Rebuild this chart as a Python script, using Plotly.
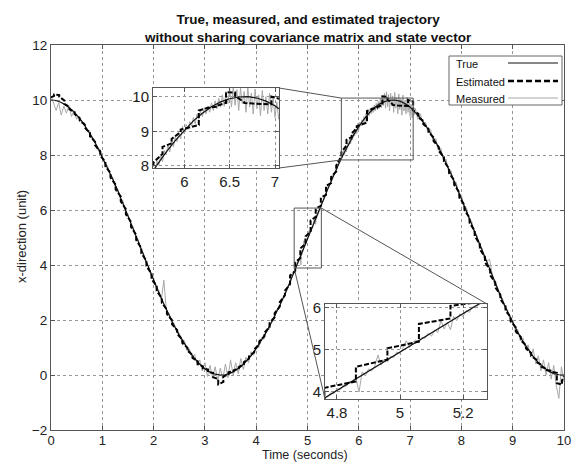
import numpy as np
import plotly.graph_objects as go

W, H = 580, 463
PAGE_OFFSET = 8  # the page body adds an 8 px margin around the figure
FONT = "Liberation Sans, Arial, sans-serif"

# ---------------- data ----------------
# True trajectory, sampled every 0.1 s from 0 s to 10 s
true_x = [10.00, 9.98, 9.91, 9.80, 9.65, 9.46, 9.23, 8.96, 8.65, 8.31,
          7.94, 7.55, 7.14, 6.71, 6.26, 5.80, 5.33, 4.86, 4.38, 3.91,
          3.45, 3.01, 2.58, 2.18, 1.80, 1.45, 1.13, 0.85, 0.60, 0.39,
          0.23, 0.11, 0.03, 0.00, 0.01, 0.07, 0.17, 0.30, 0.49, 0.70,
          0.96, 1.25, 1.57, 1.92, 2.29, 2.69, 3.11, 3.58, 4.04, 4.49,
          4.95, 5.40, 5.87, 6.33, 6.78, 7.22, 7.64, 8.03, 8.40, 8.73,
          9.03, 9.30, 9.52, 9.71, 9.85, 9.94, 9.99, 10.00, 9.96, 9.87,
          9.74, 9.56, 9.35, 9.09, 8.80, 8.47, 8.11, 7.72, 7.30, 6.87,
          6.41, 5.95, 5.48, 5.00, 4.52, 4.05, 3.59, 3.14, 2.71, 2.30,
          1.91, 1.55, 1.22, 0.93, 0.67, 0.45, 0.28, 0.14, 0.05, 0.01,
          0.00]

# Estimated: filter updates every 0.1 s starting at 0.06 s
est_first_t, est_last_t = 0.0, 10.0
est_first, est_last = 10.10, -0.05
est_update_t0, est_update_dt = 0.06, 0.1
est_prior = [10.15, 10.18, 9.98, 9.74, 9.56, 9.34, 9.10, 8.80, 8.48, 8.13,
             7.75, 7.34, 6.92, 6.49, 6.03, 5.57, 5.10, 4.62, 4.15, 3.68,
             3.23, 2.79, 2.38, 1.99, 1.63, 1.29, 0.99, 0.73, 0.50, 0.31,
             0.20, 0.08, -0.15, -0.25, 0.02, 0.13, 0.24, 0.39, 0.60, 0.83,
             1.10, 1.41, 1.74, 2.10, 2.49, 2.90, 3.30, 3.78, 4.25, 4.77,
             5.20, 5.75, 6.15, 6.55, 6.98, 7.40, 7.95, 8.35, 8.65, 8.98,
             9.12, 9.18, 9.67, 9.71, 9.82, 10.12, 9.84, 9.80, 9.78, 9.78,
             9.93, 9.50, 9.24, 8.95, 8.63, 8.29, 7.92, 7.51, 7.08, 6.64,
             6.18, 5.72, 5.24, 4.76, 4.29, 3.82, 3.37, 2.92, 2.50, 2.11,
             1.73, 1.38, 1.08, 0.80, 0.56, 0.37, 0.22, 0.15, 0.08, -0.35]
est_post = [10.20, 10.12, 9.86, 9.66, 9.49, 9.25, 8.99, 8.68, 8.35, 7.98,
            7.59, 7.18, 6.75, 6.31, 5.84, 5.38, 4.91, 4.43, 3.96, 3.49,
            3.06, 2.62, 2.22, 1.84, 1.49, 1.16, 0.88, 0.62, 0.40, 0.24,
            0.10, -0.08, -0.34, -0.05, 0.10, 0.17, 0.29, 0.47, 0.68, 0.94,
            1.22, 1.54, 1.89, 2.25, 2.65, 3.07, 3.62, 4.10, 4.60, 5.04,
            5.62, 6.05, 6.45, 6.88, 7.20, 7.62, 8.10, 8.55, 8.78, 9.05,
            9.12, 9.60, 9.68, 9.74, 10.13, 10.02, 9.82, 9.80, 9.80, 10.00,
            9.62, 9.36, 9.12, 8.83, 8.50, 8.14, 7.76, 7.34, 6.91, 6.45,
            5.99, 5.53, 5.05, 4.57, 4.10, 3.63, 3.19, 2.75, 2.34, 1.95,
            1.58, 1.25, 0.96, 0.69, 0.47, 0.30, 0.18, 0.12, -0.30, -0.20]

# Measured, in time segments (uniform sampling inside each segment)
meas_spans = [(0.00, 4.70), (4.74, 5.30), (5.35, 5.60), (5.64, 7.08), (7.10, 10.00)]
meas_a = [10.15, 9.85, 9.62, 9.90, 9.45, 9.78, 9.52, 9.80, 9.40, 9.62,
          9.30, 9.41, 9.15, 9.18, 8.88, 8.90, 8.58, 8.52, 8.20, 8.22,
          7.90, 7.68, 7.62, 7.28, 7.20, 6.85, 6.78, 6.40, 6.35, 5.95,
          5.86, 5.50, 5.40, 5.02, 4.92, 4.55, 4.45, 4.08, 3.98, 3.60,
          3.52, 3.15, 3.08, 2.72, 3.45, 2.30, 2.25, 1.90, 1.88, 1.55,
          1.52, 1.20, 1.25, 0.88, 0.95, 0.62, 0.75, 0.35, 0.55, 0.15,
          0.45, -0.05, 0.35, -0.10, 0.30, -0.20, 0.25, -0.15, 0.40, -0.10,
          0.55, 0.00, 0.45, 0.05, 0.60, 0.20, 0.65, 0.45, 0.85, 0.72,
          1.05, 1.00, 1.35, 1.30, 1.66, 1.65, 2.00, 2.02, 2.38, 2.40,
          2.78, 2.82, 3.20, 3.26, 3.65]
meas_b = [3.80, 3.78, 3.92, 3.88, 3.98, 3.96, 4.08, 4.05, 4.16, 4.14,
          4.25, 4.22, 4.33, 4.00, 4.48, 4.38, 4.55, 4.50, 4.62, 4.88,
          4.64, 4.78, 4.72, 4.85, 4.82, 4.95, 4.92, 5.05, 5.22, 5.06,
          5.18, 5.24, 5.19, 5.30, 5.28, 5.40, 5.33, 5.48, 5.42, 5.70,
          5.50, 5.66, 5.48, 5.80, 5.70, 5.86, 5.80, 5.94, 5.90, 6.02,
          6.00, 6.08, 6.12, 6.16, 6.24, 6.25, 6.33]
meas_c = [6.50, 6.85, 6.95, 7.30, 7.38, 7.70]
meas_d = [7.78, 7.92, 7.90, 8.15, 8.02, 8.30, 8.12, 8.45, 8.32, 8.62,
          8.40, 8.75, 8.55, 8.85, 8.70, 8.95, 8.78, 9.15, 8.92, 9.20,
          9.05, 9.28, 9.15, 9.40, 9.22, 9.50, 9.35, 9.58, 9.42, 9.68,
          9.50, 9.72, 9.55, 9.82, 9.60, 9.88, 9.65, 9.95, 9.70, 10.05,
          9.72, 10.15, 9.80, 10.25, 9.70, 10.30, 9.75, 10.20, 9.60, 10.25,
          9.80, 10.15, 9.55, 10.28, 9.70, 10.10, 9.50, 10.22, 9.65, 10.05,
          9.45, 10.18, 9.60, 10.00, 9.50, 10.10, 9.55, 9.95, 9.40, 9.85,
          9.35, 9.70, 9.45]
meas_e = [9.70, 9.30, 9.50, 9.10, 9.20, 8.80, 8.92, 8.50, 8.60, 8.18,
          8.25, 7.78, 7.85, 7.40, 7.42, 6.95, 7.00, 6.52, 6.55, 6.05,
          6.08, 5.60, 5.60, 5.12, 5.10, 4.65, 4.62, 4.18, 4.15, 4.20,
          3.68, 3.25, 3.22, 2.82, 2.80, 2.40, 2.38, 2.00, 2.00, 1.62,
          1.65, 1.25, 1.35, 0.95, 1.10, 0.65, 0.95, 0.40, 0.70, 0.15,
          0.55, 0.00, 0.45, -0.15, 0.35, -0.40, -0.85, 0.30, -0.25]
meas_segments = [meas_a, meas_b, meas_c, meas_d, meas_e]

x_ticks_main = list(range(0, 11))
y_ticks_main = list(range(-2, 13, 2))
inset1_xticks, inset1_xlabels = [6, 6.5, 7], ["6", "6.5", "7"]
inset1_yticks = [8, 9, 10]
inset2_xticks, inset2_xlabels = [4.8, 5.0, 5.2], ["4.8", "5", "5.2"]
inset2_yticks = [4, 5, 6]

# ---------------- build series ----------------
true_t = np.linspace(0, 10, len(true_x))
upd_t = np.round(est_update_t0 + est_update_dt * np.arange(len(est_post)), 3)
est_t = [est_first_t]
est_y = [est_first]
for tk, pr, po in zip(upd_t, est_prior, est_post):
    est_t += [tk, tk]
    est_y += [pr, po]
est_t.append(est_last_t)
est_y.append(est_last)

meas_t, meas_y = [], []
for (t0, t1), vals in zip(meas_spans, meas_segments):
    meas_t += list(np.linspace(t0, t1, len(vals)))
    meas_y += list(vals)

# ---------------- geometry (screen pixels -> paper) ----------------
def px_x(p):
    return (p - PAGE_OFFSET) / W

def px_y(p):
    return 1 - (p - PAGE_OFFSET) / H

main_dom_x = [px_x(51), px_x(564)]
main_dom_y = [px_y(430), px_y(45)]
main_rng_x, main_rng_y = [0, 10], [-2, 12]

in1_dom_x = [px_x(153), px_x(279)]
in1_dom_y = [px_y(168), px_y(88)]
in1_rng_x, in1_rng_y = [5.655, 7.044], [7.94, 10.25]

in2_dom_x = [px_x(325), px_x(487)]
in2_dom_y = [px_y(399), px_y(304)]
in2_rng_x, in2_rng_y = [4.762, 5.276], [3.833, 6.095]

# zoom rectangles drawn on the main axes (data units)
rect1 = dict(x0=5.66, x1=7.06, y0=7.82, y1=10.07)
rect2 = dict(x0=4.74, x1=5.27, y0=3.89, y1=6.07)


def to_paper(dom, rng, v):
    return dom[0] + (v - rng[0]) / (rng[1] - rng[0]) * (dom[1] - dom[0])

# ---------------- figure ----------------
fig = go.Figure()

MEAS_C = "#a8a8a8"
axes_sets = [("x", "y"), ("x2", "y2"), ("x3", "y3")]
for xa, ya in axes_sets:
    fig.add_trace(go.Scatter(x=meas_t, y=meas_y, mode="lines", xaxis=xa, yaxis=ya,
                             line=dict(color=MEAS_C, width=1), name="Measured",
                             showlegend=False, hoverinfo="skip"))
    fig.add_trace(go.Scatter(x=true_t, y=true_x, mode="lines", xaxis=xa, yaxis=ya,
                             line=dict(color="#111111", width=1.2), name="True",
                             showlegend=False, hoverinfo="skip"))
    fig.add_trace(go.Scatter(x=est_t, y=est_y, mode="lines", xaxis=xa, yaxis=ya,
                             line=dict(color="#000000", width=2, dash="5px,2px"),
                             name="Estimated", showlegend=False, hoverinfo="skip"))

axis_common = dict(showline=True, linecolor="#555555", linewidth=1, mirror="ticks",
                   ticks="inside", ticklen=4, tickcolor="#555555",
                   showgrid=True, gridcolor="#959595", griddash="dot", gridwidth=1,
                   zeroline=False, automargin=False,
                   tickfont=dict(family=FONT, size=13.5, color="#222222"))
inset_common = dict(axis_common)
inset_common["tickfont"] = dict(family=FONT, size=15, color="#222222")
xmain_axis = dict(axis_common)
xmain_axis["tickfont"] = dict(family=FONT, size=13, color="#222222")
xmain_axis["ticklabelstandoff"] = -2

fig.update_layout(
    width=W, height=H, margin=dict(l=0, r=0, t=0, b=0, pad=0, autoexpand=False),
    paper_bgcolor="white", plot_bgcolor="white", showlegend=False,
    xaxis=dict(domain=main_dom_x, range=main_rng_x, tickvals=x_ticks_main,
               anchor="y", **xmain_axis),
    yaxis=dict(domain=main_dom_y, range=main_rng_y, tickvals=y_ticks_main,
               anchor="x", **axis_common),
    xaxis2=dict(domain=in1_dom_x, range=in1_rng_x, tickvals=inset1_xticks,
                ticktext=inset1_xlabels, anchor="y2", **inset_common),
    yaxis2=dict(domain=in1_dom_y, range=in1_rng_y, tickvals=inset1_yticks,
                anchor="x2", **inset_common),
    xaxis3=dict(domain=in2_dom_x, range=in2_rng_x, tickvals=inset2_xticks,
                ticktext=inset2_xlabels, anchor="y3", **inset_common),
    yaxis3=dict(domain=in2_dom_y, range=in2_rng_y, tickvals=inset2_yticks,
                anchor="x3", **inset_common),
)

shapes = []
for r in (rect1, rect2):
    shapes.append(dict(type="rect", xref="x", yref="y", layer="above",
                       line=dict(color="#555555", width=1), fillcolor="rgba(0,0,0,0)", **r))


def main_pt(xv, yv):
    return (to_paper(main_dom_x, main_rng_x, xv), to_paper(main_dom_y, main_rng_y, yv))


def conn(p, q):
    return dict(type="line", xref="paper", yref="paper", layer="above",
                x0=p[0], y0=p[1], x1=q[0], y1=q[1], line=dict(color="#555555", width=1))

shapes.append(conn((in1_dom_x[1], in1_dom_y[1]), main_pt(rect1["x0"], rect1["y1"])))
shapes.append(conn((in1_dom_x[1], in1_dom_y[0]), main_pt(rect1["x0"], rect1["y0"])))
shapes.append(conn(main_pt(rect2["x1"], rect2["y1"]), (in2_dom_x[1], in2_dom_y[1])))
shapes.append(conn(main_pt(rect2["x0"], rect2["y0"]), (in2_dom_x[0], in2_dom_y[0])))

# legend box (MATLAB style: text left, sample right)
shapes.append(dict(type="rect", xref="paper", yref="paper", layer="above",
                   x0=px_x(449), x1=px_x(562), y0=px_y(105), y1=px_y(56),
                   fillcolor="white", line=dict(color="#666666", width=1)))
legend_items = [("True", 63, dict(color="#111111", width=1.2)),
                ("Estimated", 81, dict(color="#000000", width=2.5, dash="6px,3px")),
                ("Measured", 98, dict(color=MEAS_C, width=1))]
annotations = []
for label, ypx, ls in legend_items:
    shapes.append(dict(type="line", xref="paper", yref="paper", layer="above",
                       x0=px_x(508), x1=px_x(558), y0=px_y(ypx), y1=px_y(ypx), line=ls))
    annotations.append(dict(text=label, xref="paper", yref="paper", x=px_x(454), y=px_y(ypx + 1),
                            xanchor="left", yanchor="middle", showarrow=False,
                            font=dict(family=FONT, size=11, color="#111111")))

annotations.append(dict(
    text="<b>True, measured, and estimated trajectory</b><br><b>without sharing covariance matrix and state vector</b>",
    xref="paper", yref="paper", x=px_x(308), y=px_y(10), xanchor="center", yanchor="top",
    showarrow=False, font=dict(family=FONT, size=13.5, color="#111111")))
annotations.append(dict(text="Time (seconds)", xref="paper", yref="paper",
                        x=px_x(305), y=px_y(455), xanchor="center", yanchor="middle",
                        showarrow=False, font=dict(family=FONT, size=12.5, color="#222222")))
annotations.append(dict(text="x-direction (unit)", xref="paper", yref="paper",
                        x=px_x(21), y=px_y(237), xanchor="center", yanchor="middle",
                        textangle=-90, showarrow=False,
                        font=dict(family=FONT, size=13, color="#222222")))

fig.update_layout(shapes=shapes, annotations=annotations)
fig.write_html("out.html")
